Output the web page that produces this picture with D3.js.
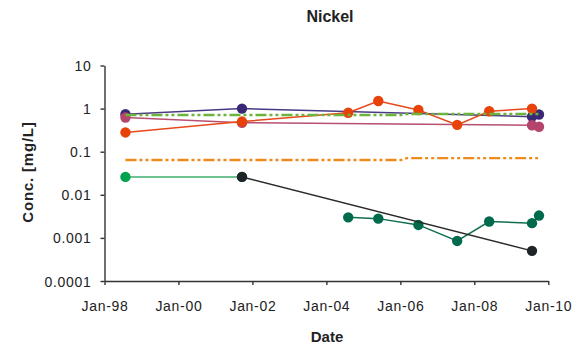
<!DOCTYPE html>
<html>
<head>
<meta charset="utf-8">
<script src="https://cdn.jsdelivr.net/npm/d3@7"></script>
<style>
  body { margin: 0; background: #fff; }
  text { font-family: "Liberation Sans", Arial, sans-serif; }
</style>
</head>
<body>
<div id="chart"></div>
<script>
// sampling dates
var datesA = ["1998-07-27", "2001-09-20", "2009-07-24", "2009-10-01"];
var datesB = ["1998-07-27", "2001-09-20", "2004-08-04", "2005-05-28", "2006-06-28", "2007-07-16", "2008-05-27", "2009-07-24"];
var datesC = ["2004-08-04", "2005-05-28", "2006-06-28", "2007-07-16", "2008-05-27", "2009-07-24", "2009-10-01"];
var datesD = ["1998-07-27", "2001-09-20"];
var datesE = ["2001-09-20", "2009-07-24"];
var datesG = ["1998-07-27", "2006-01-05", "2006-03-05", "2009-10-01"];

// series values (mg/L)
var purpleVals = [0.74, 1.0, 0.65, 0.73];
var pinkVals = [0.62, 0.47, 0.41, 0.38];
var redVals = [0.28, 0.50, 0.80, 1.5, 0.93, 0.42, 0.87, 1.0];
var tealVals = [0.0030, 0.0028, 0.0020, 0.00085, 0.0024, 0.0022, 0.0033];
var greenVals = [0.026, 0.026];
var blackVals = [0.026, 0.0005];
var limeGuide = [0.71, 0.71, 0.75, 0.75];
var orangeGuide = [0.064, 0.064, 0.071, 0.071];

// axis ticks
var xTickDates = ["1998-01-01", "2000-01-01", "2002-01-01", "2004-01-01", "2006-01-01", "2008-01-01", "2010-01-01"];
var xTickLabels = ["Jan-98", "Jan-00", "Jan-02", "Jan-04", "Jan-06", "Jan-08", "Jan-10"];
var yTickValues = [0.0001, 0.001, 0.01, 0.1, 1, 10];
var yTickLabels = ["0.0001", "0.001", "0.01", "0.1", "1", "10"];

var svgWidth = 574;
var svgHeight = 347;
var margin = { top: 65.5, bottom: 66, right: 25.7, left: 104.5 };
var width = svgWidth - margin.left - margin.right;
var height = svgHeight - margin.top - margin.bottom;

var parse = d3.timeParse("%Y-%m-%d");

var svg = d3.select("#chart")
    .append("svg")
    .attr("width", svgWidth)
    .attr("height", svgHeight);

var chartGroup = svg.append("g")
    .attr("transform", `translate(${margin.left}, ${margin.top})`);

var xScale = d3.scaleTime()
    .domain([parse("1998-01-01"), parse("2010-01-01")])
    .range([0, width]);

var yScale = d3.scaleLog()
    .domain([0.0001, 10])
    .range([height, 0]);

// axes
var bottomAxis = d3.axisBottom(xScale)
    .tickValues(xTickDates.map(parse))
    .tickSize(4)
    .tickSizeOuter(0)
    .tickPadding(16)
    .tickFormat((d, i) => xTickLabels[i]);

var leftAxis = d3.axisLeft(yScale)
    .tickValues(yTickValues)
    .tickSize(4)
    .tickSizeOuter(0)
    .tickPadding(9)
    .tickFormat((d, i) => yTickLabels[i]);

var xAxis = chartGroup.append("g")
    .attr("transform", `translate(0, ${height})`)
    .call(bottomAxis);

var yAxis = chartGroup.append("g")
    .call(leftAxis);

[xAxis, yAxis].forEach(function(ax) {
    ax.selectAll("path, line").attr("stroke", "#333").attr("stroke-width", 1.4);
    ax.selectAll("text")
        .attr("fill", "#222")
        .style("font-size", "14px")
        .style("letter-spacing", "0.7px");
});
xAxis.selectAll("text").attr("dy", "0.71em");
yAxis.selectAll("text").attr("dy", "0.36em");

function makeSeries(dates, vals) {
    return dates.map((d, i) => ({ date: parse(d), value: vals[i] }));
}

var line = d3.line()
    .x(d => xScale(d.date))
    .y(d => yScale(d.value));

function drawSeries(dates, vals, lineColor, dotColor, dash, dots) {
    var data = makeSeries(dates, vals);
    chartGroup.append("path")
        .datum(data)
        .attr("d", line)
        .attr("fill", "none")
        .attr("stroke", lineColor)
        .attr("stroke-width", dash ? 2.4 : 1.5)
        .attr("stroke-dasharray", dash || null);
    if (dots) {
        chartGroup.selectAll(null)
            .data(data)
            .enter()
            .append("circle")
            .attr("cx", d => xScale(d.date))
            .attr("cy", d => yScale(d.value))
            .attr("r", 5.2)
            .attr("fill", dotColor);
    }
}

drawSeries(datesG, orangeGuide, "#ef8a1c", null, "11,3,3,3,3,3", false);
drawSeries(datesC, tealVals, "#0f6e50", "#006a4c", null, true);
drawSeries(datesD, greenVals, "#3fae6e", "#00a24e", null, true);
drawSeries(datesE, blackVals, "#2a2a2a", "#1f2428", null, true);
drawSeries(datesA, purpleVals, "#4a3a86", "#3a2876", null, true);
drawSeries(datesA, pinkVals, "#b8506f", "#b5456d", null, true);
drawSeries(datesB, redVals, "#e8481a", "#e6420a", null, true);
drawSeries(datesG, limeGuide, "#6cb43c", null, "11,3,3,3,3,3", false);

// titles
svg.append("text")
    .attr("x", 330)
    .attr("y", 21.7)
    .attr("text-anchor", "middle")
    .style("font-size", "16px")
    .style("font-weight", "bold")
    .attr("fill", "#222")
    .text("Nickel");

svg.append("text")
    .attr("x", 327)
    .attr("y", 341.5)
    .attr("text-anchor", "middle")
    .style("font-size", "15px")
    .style("font-weight", "bold")
    .attr("fill", "#222")
    .text("Date");

svg.append("text")
    .attr("transform", "translate(32.5, 172) rotate(-90)")
    .attr("text-anchor", "middle")
    .style("font-size", "15px")
    .style("font-weight", "bold")
    .style("letter-spacing", "0.8px")
    .attr("fill", "#222")
    .text("Conc. [mg/L]");
</script>
</body>
</html>
